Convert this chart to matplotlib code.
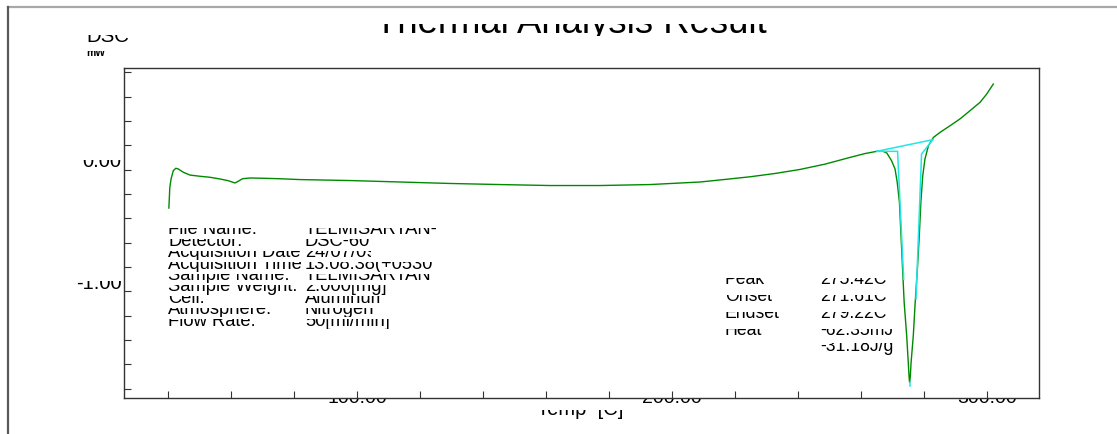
import matplotlib
matplotlib.use("Agg")
import matplotlib.pyplot as plt
from matplotlib.transforms import Bbox, TransformedBbox, offset_copy
from matplotlib.lines import Line2D

W, H, DPI = 1117, 435, 100

# DSC trace: temperature [C] and heat flow [mW]
temp = [40.3, 40.6, 41.0, 41.7, 42.5, 43.3, 44.9, 47.0, 50.2, 53.3, 56.5, 59.1,
        61.3, 62.3, 63.7, 66.0, 71.3, 75.3, 81.9, 97.8, 113.7, 129.5, 145.4,
        161.3, 177.1, 193.0, 208.9, 216.8, 224.8, 232.7, 240.6, 248.6, 256.5,
        261.3, 265.0, 266.6, 268.2, 269.7, 270.8, 271.5, 272.2, 272.7, 273.2,
        273.7, 274.5, 275.0, 275.25, 275.42, 275.65, 275.9, 276.6, 277.2, 277.9,
        278.5, 279.0, 279.6, 280.3, 281.4, 283.0, 285.1, 288.3, 291.4, 294.6,
        297.8, 299.9, 302.0]
dsc = [-0.315, -0.145, -0.076, -0.008, 0.012, 0.006, -0.021, -0.044, -0.054,
       -0.062, -0.076, -0.090, -0.109, -0.095, -0.074, -0.068, -0.071, -0.074,
       -0.081, -0.089, -0.101, -0.113, -0.122, -0.130, -0.130, -0.122, -0.101,
       -0.080, -0.058, -0.031, 0.002, 0.046, 0.101, 0.133, 0.151, 0.156, 0.137,
       0.074, 0.006, -0.104, -0.268, -0.542, -0.816, -1.090, -1.364, -1.583,
       -1.700, -1.747, -1.700, -1.583, -1.364, -1.090, -0.816, -0.542, -0.268,
       -0.049, 0.088, 0.197, 0.266, 0.307, 0.362, 0.417, 0.485, 0.554, 0.622,
       0.704]

# Peak analysis results
peak_temp = 275.42
onset_temp = 271.61
endset_temp = 279.22
heat_mj = -62.35
heat_jg = -31.18

# Analysis construction lines (temperature, mW)
base_t = [265.0, 282.8]
base_v = [0.151, 0.247]
onset_t = [265.0, onset_temp, 273.55]
onset_v = [0.151, 0.151, -0.900]
endset_t = [282.8, endset_temp, 277.46]
endset_v = [0.247, 0.129, -1.062]
peak_mark_t = [peak_temp, peak_temp]
peak_mark_v = [-1.747, -1.778]

x_ticks = list(range(40, 301, 20))
x_labeled = [100, 200, 300]
y_ticks = [-1.8, -1.6, -1.4, -1.2, -1.0, -0.8, -0.6, -0.4, -0.2, 0.0, 0.2, 0.4, 0.6, 0.8]
y_labeled = [0.0, -1.0]

info_labels = ["File Name:", "Detector:", "Acquisition Date", "Acquisition Time",
               "Sample Name:", "Sample Weight:", "Cell:", "Atmosphere:", "Flow Rate:"]
info_values = ["TELMISARTAN-.tad", "DSC-60", "24/07/09", "13:08:38(+0530)",
               "TELMISARTAN", "2.000[mg]", "Aluminum", "Nitrogen", "50[ml/min]"]
info_value_right = [436, 436, 371, 432, 433, 436, 383, 373, 390]

result_labels = ["Peak", "Onset", "Endset", "Heat", ""]
result_values = [f"{peak_temp:.2f}C", f"{onset_temp:.2f}C", f"{endset_temp:.2f}C",
                 f"{heat_mj:.2f}mJ", f"{heat_jg:.2f}J/g"]

plt.rcParams['font.family'] = ['Liberation Sans', 'DejaVu Sans']

fig = plt.figure(figsize=(W / DPI, H / DPI), dpi=DPI)
fig.patch.set_facecolor("white")


def band(x0, x1, y_top, y_bot):
    """Clip rectangle given in pixel coordinates (origin top-left)."""
    bb = Bbox.from_extents(x0 / W, 1 - y_bot / H, x1 / W, 1 - y_top / H)
    return TransformedBbox(bb, fig.transFigure)


def clip_text(t, x0, x1, y_top, y_bot):
    t.set_clip_box(band(x0, x1, y_top, y_bot))
    t.set_clip_on(True)
    return t


def ptext(x, y, s, size, **kw):
    return fig.text(x / W, 1 - y / H, s, fontsize=size, va="baseline", **kw)


# outer page frame
fig.add_artist(Line2D([8 / W, 1], [1 - 8 / H, 1 - 8 / H], transform=fig.transFigure,
                      color="#a8a8a8", lw=1.6))
fig.add_artist(Line2D([8 / W, 8 / W], [0, 1 - 8 / H], transform=fig.transFigure,
                      color="#5a5a5a", lw=1.6))

ax_l, ax_r, ax_t, ax_b = 123.5, 1039, 68.5, 398.5
ax = fig.add_axes([ax_l / W, 1 - ax_b / H, (ax_r - ax_l) / W, (ax_b - ax_t) / H])
ax.set_xlim(25.9, 316.5)
ax.set_ylim(-1.872, 0.840)
for sp in ax.spines.values():
    sp.set_color("#333333")
    sp.set_linewidth(1.0)
ax.set_xticks(x_ticks)
ax.set_yticks(y_ticks)
ax.tick_params(direction="in", length=5, width=0.8, color="#333333",
               top=False, right=False, labelbottom=False, labelleft=False)

ax.plot(temp, dsc, color="#008a00", lw=1.0, zorder=3)
for tt, vv in [(base_t, base_v), (onset_t, onset_v), (endset_t, endset_v),
               (peak_mark_t, peak_mark_v)]:
    ax.plot(tt, vv, color="#22e6e6", lw=1.1, zorder=4)

fig.canvas.draw()

# x tick labels (only lower part shows below the axis line)
xtr = offset_copy(ax.get_xaxis_transform(), fig=fig, y=-5, units="dots")
for v in x_labeled:
    t = fig.text(v, 0, f"{v:.2f}", transform=xtr, ha="center", va="baseline", fontsize=14)
    clip_text(t, 0, W, ax_b + 1, ax_b + 12)

# y tick labels
ytr = offset_copy(ax.get_yaxis_transform(), fig=fig, x=-1.8, y=3.4, units="dots")
for v in y_labeled:
    t = fig.text(0, v, f"{v:.2f}", transform=ytr, ha="right", va="baseline", fontsize=14.5)
    y_disp = ax.transData.transform((0, v))[1]
    base_px = H - y_disp - 3.4
    clip_text(t, 0, ax_l - 1, base_px - 6.5, base_px + 2)

# title and axis captions
clip_text(ptext(375, 32.7, "Thermal Analysis Result", 26.3), 0, W, 25, 37)
clip_text(ptext(86, 41.7, "DSC", 14.7), 0, W, 36, 44)
clip_text(ptext(86, 55.5, "mW", 7.5, fontweight="bold"), 0, W, 52, 57)
clip_text(ptext(537, 415.5, "Temp  [C]", 14.5), 0, W, 411, 420)

# acquisition information block
for i, (lab, val) in enumerate(zip(info_labels, info_values)):
    yb = 234.5 + 11.4 * i
    clip_text(ptext(168, yb, lab, 13.2), 160, 303.5, yb - 5.5, yb + 4)
    clip_text(ptext(305, yb, val, 13.2), 304, info_value_right[i], yb - 5.5, yb + 4)

# peak analysis block
for i, (lab, val) in enumerate(zip(result_labels, result_values)):
    yb = [284, 301, 318, 335, 351.5][i]
    vis = 7.5 if i == 4 else 5.5
    if lab:
        clip_text(ptext(725, yb, lab, 12.7), 700, 815, yb - vis, yb + 4)
    clip_text(ptext(820, yb, val, 12.7), 815, 905, yb - vis, yb + 4)

fig.savefig("out.png", dpi=DPI, facecolor="white")
